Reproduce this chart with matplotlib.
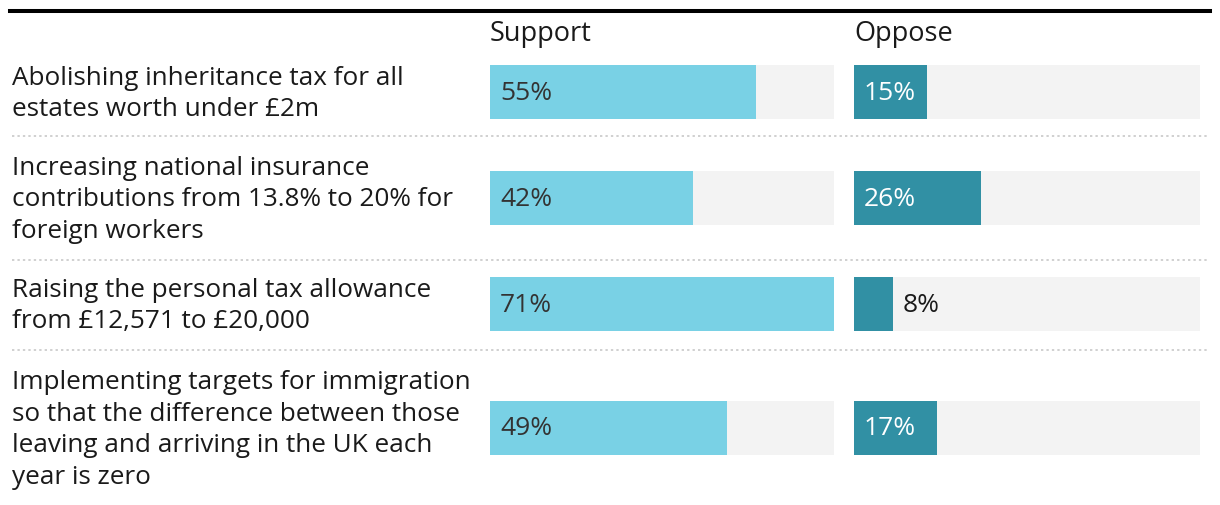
import matplotlib.pyplot as plt
from matplotlib.lines import Line2D

# data
labels = [
    "Abolishing inheritance tax for all\nestates worth under £2m",
    "Increasing national insurance\ncontributions from 13.8% to 20% for\nforeign workers",
    "Raising the personal tax allowance\nfrom £12,571 to £20,000",
    "Implementing targets for immigration\nso that the difference between those\nleaving and arriving in the UK each\nyear is zero",
]
support = [55, 42, 71, 49]
oppose = [15, 26, 8, 17]
headers = ["Support", "Oppose"]

# layout (pixels from top)
W, H = 1220, 506
row_y = [93, 199, 305, 429]
sep_y = [137, 261, 351]
bar_h = 54
scale_max = 71

light = "#79d1e5"
dark = "#3190a4"
track = "#f3f3f3"

plt.rcParams['font.family'] = ['Open Sans', 'DejaVu Sans']
fig = plt.figure(figsize=(W / 100, H / 100), dpi=100)

# full-figure overlay for lines and text
bg = fig.add_axes([0, 0, 1, 1])
bg.set_xlim(0, W)
bg.set_ylim(H, 0)
bg.axis('off')
bg.add_line(Line2D([10, 1210], [12, 12], color='black', lw=2.9))
for y in sep_y:
    bg.add_line(Line2D([12, 1208], [y, y], color='#d0d0d0', lw=1.4,
                       linestyle=(0, (1.2, 1.6))))
for lab, y in zip(labels, row_y):
    bg.text(12, y + 1, lab, fontsize=18.8, color='#1a1a1a', va='center', ha='left',
            linespacing=1.36)


def panel(left, width, values, color, inside_color, header):
    ax = fig.add_axes([left / W, 0, width / W, 1])
    ax.set_xlim(0, scale_max)
    ax.set_ylim(H, 0)
    ax.axis('off')
    ax.barh(row_y, [scale_max] * len(row_y), height=bar_h, color=track, left=0)
    ax.barh(row_y, values, height=bar_h, color=color, left=0)
    px = scale_max / width
    for v, y in zip(values, row_y):
        if v >= 12:
            ax.text(10 * px, y, f"{v}%", fontsize=19, color=inside_color,
                    va='center', ha='left')
        else:
            ax.text(v + 10 * px, y, f"{v}%", fontsize=19, color='#1a1a1a',
                    va='center', ha='left')
    ax.text(0, 34, header, fontsize=19.5, color='#1a1a1a', va='center', ha='left')
    return ax


panel(490, 344, support, light, '#333333', headers[0])
panel(854, 346, oppose, dark, 'white', headers[1])

fig.savefig("out.png", dpi=100)
